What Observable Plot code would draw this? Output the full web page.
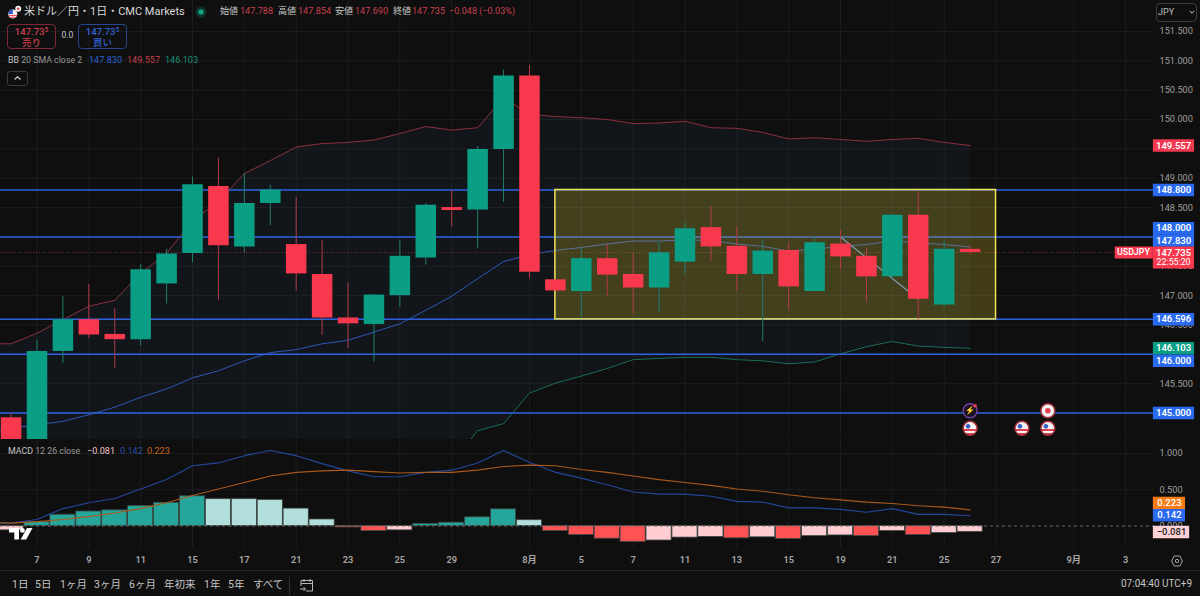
<!DOCTYPE html>
<html lang="ja">
<head>
<meta charset="utf-8">
<script src="https://cdn.jsdelivr.net/npm/d3@7"></script>
<script src="https://cdn.jsdelivr.net/npm/@observablehq/plot@0.6"></script>
<style>
  html,body{margin:0;padding:0;background:#0f0f0f;}
  #root{position:relative;width:1200px;height:596px;overflow:hidden;background:#0f0f0f;font-family:Roboto,"Noto Sans CJK JP",sans-serif;color:#c8c8c8;}
  #price,#macd{position:absolute;left:0;width:1200px;}
  #price{top:0;} #macd{top:440px;}
  svg{display:block;overflow:visible;}
  .t{position:absolute;white-space:nowrap;line-height:1;font-size:9.1px;}
  .r{color:#c9404e;} .b{color:#2f62d6;} .g{color:#1a8f79;}
  .box{position:absolute;box-sizing:border-box;border-radius:3px;}
  .btn{position:absolute;top:24px;height:25px;width:49px;box-sizing:border-box;border-radius:4px;border:1px solid;text-align:center;font-size:9.5px;line-height:11px;padding-top:1px;font-weight:500;}
  .btn sup{font-size:6.5px;line-height:0;vertical-align:3px;}
  .tb{position:absolute;top:580px;font-size:10.5px;line-height:1;color:#c4c4c4;white-space:nowrap;}
</style>
</head>
<body>
<div id="root">
  <div id="price"></div>
  <div id="macd"></div>

  <svg style="position:absolute;left:8px;top:5px" width="14" height="14" viewBox="0 0 14 14">
    <circle cx="4.8" cy="9" r="4.6" fill="#f2f2f2"/>
    <path d="M.4 9a4.6 4.6 0 0 1 4.4-4.6V9z" fill="#2f55c8"/>
    <path d="M.6 10.4h8.4M1.6 12.3h6.4" stroke="#e2404c" stroke-width="1"/>
    <circle cx="10.2" cy="3.8" r="3" fill="#f2f2f2"/>
    <circle cx="10.2" cy="3.8" r="1.3" fill="#e2404c"/>
  </svg>
  <div class="t" style="left:24px;top:6px;font-size:11px;color:#d8d8d8">米ドル／円・1日・CMC Markets</div>
  <svg style="position:absolute;left:195px;top:6px" width="12" height="12"><circle cx="6" cy="6" r="5.5" fill="#10332c"/><circle cx="6" cy="6" r="2.6" fill="#14a88b"/></svg>
  <div class="t" style="left:220px;top:7px">始値</div><div class="t r" style="left:240px;top:7px">147.788</div>
  <div class="t" style="left:278px;top:7px">高値</div><div class="t r" style="left:298px;top:7px">147.854</div>
  <div class="t" style="left:335px;top:7px">安値</div><div class="t r" style="left:355px;top:7px">147.690</div>
  <div class="t" style="left:393px;top:7px">終値</div><div class="t r" style="left:412px;top:7px">147.735</div>
  <div class="t r" style="left:449px;top:7px">−0.048 (−0.03%)</div>

  <div class="btn r" style="left:7px;border-color:#7d2a35">147.73<sup>5</sup><br>売り</div>
  <div class="t" style="left:61.5px;top:31px;font-size:8.5px">0.0</div>
  <div class="btn b" style="left:78px;border-color:#28458f">147.73<sup>5</sup><br>買い</div>

  <div class="t" style="left:8px;top:56px;color:#9a9a9a;font-size:8.8px"><span style="color:#c4c4c4">BB</span> 20 SMA close 2</div>
  <div class="t b" style="left:89px;top:56px">147.830</div>
  <div class="t r" style="left:127px;top:56px">149.557</div>
  <div class="t g" style="left:165px;top:56px">146.103</div>
  <div class="box" style="left:7px;top:71px;width:21px;height:15px;border:1px solid #3a3a3a"></div>
  <svg style="position:absolute;left:13px;top:75px" width="9" height="6"><path d="M1.5 4.5 4.5 1.8 7.5 4.5" fill="none" stroke="#d0d0d0" stroke-width="1.2"/></svg>

  <div class="box" style="left:1156px;top:3px;width:41px;height:19px;border:1px solid #3c3c3c;border-radius:4px"></div>
  <div class="t" style="left:1158px;top:7.5px;font-size:9px;color:#bdbdbd">JPY</div>
  <svg style="position:absolute;left:1189px;top:10px" width="6" height="5"><path d="M.8 1 3 3.2 5.2 1" fill="none" stroke="#c8c8c8" stroke-width="1"/></svg>

  <div class="t" style="left:8px;top:447px;color:#9a9a9a;font-size:8.8px"><span style="color:#c4c4c4">MACD</span> 12 26 close</div>
  <div class="t" style="left:87px;top:447px;color:#f0c4cb">−0.081</div>
  <div class="t b" style="left:120px;top:447px;color:#2d50a8">0.142</div>
  <div class="t" style="left:147px;top:447px;color:#c8641c">0.223</div>

  <svg style="position:absolute;left:9px;top:527px" width="24" height="14" viewBox="0 0 24 14">
    <path d="M0 1h10v11.5H5.3V5.6H0z" fill="#fff"/><circle cx="13.4" cy="3.4" r="2.4" fill="#fff"/>
    <polygon points="18,1 23.5,1 17.2,12.5 11.6,12.5" fill="#fff"/>
  </svg>

  <div style="position:absolute;left:0;top:570px;width:1200px;height:1px;background:#262626"></div>
  <div class="tb" style="left:12px">1日</div>
  <div class="tb" style="left:35px">5日</div>
  <div class="tb" style="left:60px">1ヶ月</div>
  <div class="tb" style="left:94px">3ヶ月</div>
  <div class="tb" style="left:129px">6ヶ月</div>
  <div class="tb" style="left:164px">年初来</div>
  <div class="tb" style="left:204px">1年</div>
  <div class="tb" style="left:228px">5年</div>
  <div class="tb" style="left:253px">すべて</div>
  <div style="position:absolute;left:289px;top:577px;width:1px;height:18px;background:#333"></div>
  <svg style="position:absolute;left:299px;top:577px" width="16" height="16" viewBox="0 0 16 16" fill="none" stroke="#b8b8b8" stroke-width="1">
    <path d="M2 9V3.5h11.5V14H7M2 6.5h11.5M5 2v3M11 2v3M1 12h5M4.5 10l2 2-2 2"/>
  </svg>
  <div class="tb" style="left:1121px;top:579px;font-size:10px">07:04:40 UTC+9</div>
  <svg style="position:absolute;left:1171px;top:555px" width="12" height="12" viewBox="0 0 12 12" fill="none" stroke="#a8a8a8"><path d="M3.2 1h5.6L11.4 6 8.8 11H3.2L.6 6z" stroke-width="1"/><circle cx="6" cy="6" r="1.7" stroke-width="1"/></svg>
</div>

<script>
// ---------- candles, first entry is the Friday before the 7th ----------
const barIndex = d3.range(-1, 37);
const opens  = [144.92,144.30,146.05,146.59,146.34,146.25,147.20,147.72,148.86,147.83,148.57,147.87,147.36,146.62,146.51,147.00,147.64,148.50,148.46,149.49,150.74,147.27,147.07,147.63,147.36,147.13,147.57,148.16,147.84,147.36,147.77,147.07,147.88,147.67,147.32,148.37,146.84,147.788];
const highs  = [144.99,146.24,146.98,147.19,146.78,147.53,147.79,149.02,149.34,149.08,148.88,148.67,147.94,147.22,147.02,147.94,148.57,148.79,149.54,150.84,150.92,147.27,147.82,147.88,147.72,147.91,148.24,148.52,148.17,147.95,147.89,148.00,148.11,147.81,148.39,148.77,147.93,147.854];
const lows   = [144.20,144.20,145.85,146.27,145.76,146.14,146.86,147.56,146.92,147.73,148.19,147.08,146.32,146.10,145.87,146.80,147.52,148.17,147.80,148.59,147.29,147.08,146.62,146.99,146.69,146.72,147.36,147.58,147.08,146.22,146.75,147.07,147.44,146.88,147.28,146.59,146.80,147.690];
const closes = [144.30,146.05,146.59,146.33,146.25,147.44,147.71,148.89,147.85,148.57,148.80,147.37,146.62,146.52,147.01,147.67,148.54,148.45,149.49,150.74,147.40,147.08,147.63,147.35,147.13,147.73,148.14,147.83,147.36,147.76,147.15,147.90,147.66,147.32,148.37,146.94,147.79,147.735];

// ---------- Bollinger bands, starting one bar further left ----------
const bandIndex = d3.range(-2, 37);
const bbUpper  = [146.18,146.18,146.36,146.59,146.82,146.92,147.38,147.72,148.28,148.60,149.08,149.30,149.53,149.59,149.61,149.65,149.76,149.88,149.82,149.86,150.37,150.09,150.05,150.03,150.00,149.93,149.94,149.97,149.86,149.85,149.78,149.67,149.69,149.66,149.63,149.66,149.68,149.61,149.557];
const bbMiddle = [144.67,144.74,144.80,144.86,144.97,145.10,145.27,145.41,145.60,145.72,145.89,146.03,146.08,146.18,146.24,146.38,146.52,146.75,146.99,147.29,147.58,147.70,147.77,147.82,147.88,147.93,147.93,147.95,147.94,147.88,147.84,147.76,147.79,147.84,147.87,147.93,147.90,147.87,147.830];
const bbLower  = [143.20,143.30,143.25,143.15,143.10,143.30,143.15,143.10,142.90,142.85,142.70,142.75,142.65,142.75,142.85,143.10,143.25,143.60,144.14,144.70,144.82,145.34,145.51,145.63,145.76,145.91,145.93,145.95,145.95,145.91,145.89,145.84,145.87,146.01,146.13,146.22,146.14,146.12,146.103];

// ---------- MACD pane ----------
const macdIndex = d3.range(-2, 37);
const macdLine = [0.04,0.04,0.09,0.24,0.32,0.38,0.51,0.64,0.83,0.87,0.97,1.04,0.97,0.86,0.76,0.68,0.68,0.74,0.77,0.87,1.04,0.88,0.74,0.66,0.57,0.47,0.44,0.44,0.41,0.34,0.33,0.25,0.25,0.23,0.19,0.24,0.16,0.16,0.142];
const signalLine = [0.05,0.04,0.06,0.09,0.13,0.18,0.24,0.32,0.42,0.51,0.60,0.69,0.74,0.76,0.77,0.75,0.73,0.74,0.74,0.77,0.82,0.84,0.83,0.78,0.74,0.69,0.64,0.60,0.56,0.51,0.48,0.43,0.39,0.36,0.33,0.31,0.28,0.26,0.223];
const histIndex = d3.range(-1, 37);
const histogram = [-0.06,0.055,0.156,0.20,0.216,0.276,0.32,0.41,0.37,0.37,0.36,0.24,0.09,-0.02,-0.07,-0.06,0.03,0.046,0.12,0.23,0.08,-0.07,-0.125,-0.175,-0.22,-0.20,-0.16,-0.15,-0.17,-0.156,-0.18,-0.14,-0.13,-0.14,-0.07,-0.125,-0.097,-0.081];

// ---------- axis content ----------
const priceGrid = [145,145.5,146,146.5,147,147.5,148,148.5,149,149.5,150,150.5,151,151.5];
const priceTicks = [145.5,146.5,147,147.5,148.5,149,150,150.5,151,151.5];
const levels = [148.8,148,146.596,146,145];
const dateTickIndex = [0,2,4,6,8,10,12,14,16,19,21,23,25,27,29,31,33,35,37,40,42];
const dateTickLabel = ["7","9","11","15","17","21","23","25","29","8月","5","7","11","13","15","19","21","25","27","9月","3"];
const macdTicks = [0,0.5,1];
const box = {i1:20,i2:37,low:146.596,high:148.8};
const trend = [{i:31,p:148.0},{i:34,p:146.94}];
const last = 147.735;
const priceTagLabels = ["149.557","148.800","148.000","147.830","146.596","146.103","146.000","145.000"];
const priceTagAt     = [149.557,148.8,148.15,147.94,146.596,146.103,145.89,145];
const priceTagFill   = ["#f0394f","#2a6af0","#2a6af0","#2a6af0","#2a6af0","#0a9f84","#2a6af0","#2a6af0"];
const macdTagLabels = ["0.223","0.142","−0.081"];
const macdTagAt     = [0.316,0.15,-0.081];
const macdTagFill   = ["#f57c14","#2a6af0","#ffd2d8"];
const macdTagInk    = ["#fff","#fff","#222"];
const flagEvents = [{i:36,p:144.74},{i:38,p:144.74},{i:39,p:144.74}];
const jpEvents = [{i:39,p:145.04}];
const boltEvents = [{i:36,p:145.04}];

const zipTable = (idx, cols) => idx.map((i,k)=>{const r={i};for(const c in cols) r[c]=cols[c][k];return r;});
const candles = zipTable(barIndex,{o:opens,h:highs,l:lows,c:closes});
const bands = zipTable(bandIndex,{u:bbUpper,m:bbMiddle,d:bbLower});
const macd = zipTable(macdIndex,{m:macdLine,s:signalLine});
const hist = zipTable(histIndex,{v:histogram});
const histColor = (d,k)=>{
  const prev = k? hist[k-1].v : d.v-1;
  return d.v>=0 ? (d.v>prev?"#26a69a":"#b2dfdb") : (d.v<prev?"#ff5252":"#ffcdd2");
};

const GREEN="#0a9f84", RED="#f7384d", GRID="#1c1d1e", LEVEL="#2d62e0";
const xDomain=[-1.408,43.114], marginRight=46;
const tagL=43.07, tagR=44.66, tagC=43.85, font="Roboto,'Noto Sans CJK JP',sans-serif";
const priceTags = zipTable(priceTagLabels,{at:priceTagAt,fill:priceTagFill}).map(d=>({label:d.i,at:d.at,fill:d.fill}));
const macdTags = zipTable(macdTagLabels,{at:macdTagAt,fill:macdTagFill,ink:macdTagInk}).map(d=>({label:d.i,at:d.at,fill:d.fill,ink:d.ink}));

const pricePlot = Plot.plot({
  width:1200,height:439,marginTop:0,marginBottom:0,marginLeft:0,marginRight,
  style:{background:"transparent",fontFamily:font,overflow:"visible"},
  x:{type:"linear",domain:xDomain,axis:null},
  y:{type:"linear",domain:[144.55,152.027],axis:null},
  color:{type:"identity"},
  marks:[
    Plot.gridX(dateTickIndex,{stroke:GRID,strokeOpacity:1}),
    Plot.gridY(priceGrid,{stroke:GRID,strokeOpacity:1}),
    Plot.areaY(bands,{x:"i",y1:"d",y2:"u",fill:"#3c7fb8",fillOpacity:0.065,clip:"frame"}),
    Plot.line(bands,{x:"i",y:"u",stroke:"#8a2f3b",strokeWidth:1,clip:"frame"}),
    Plot.line(bands,{x:"i",y:"m",stroke:"#2c58b8",strokeWidth:1,clip:"frame"}),
    Plot.line(bands,{x:"i",y:"d",stroke:"#1a6d5c",strokeWidth:1,clip:"frame"}),
    Plot.ruleY(levels,{x1:()=>xDomain[0],x2:()=>tagL,stroke:LEVEL,strokeWidth:1.5}),
    Plot.ruleY([last],{x1:()=>xDomain[0],x2:()=>41.6,stroke:"#7a2d35",strokeWidth:1,strokeDasharray:"1,2"}),
    Plot.line(trend,{x:"i",y:"p",stroke:"#5f8fd0",strokeWidth:1.2}),
    Plot.rect([box],{x1:"i1",x2:"i2",y1:"low",y2:"high",fill:"#e0c830",fillOpacity:0.24,stroke:"#efe35a",strokeWidth:1.5}),
    Plot.ruleX(candles,{x:"i",y1:"l",y2:"h",stroke:d=>d.c>=d.o?"#1c7f6c":"#b23a4a",strokeWidth:1,clip:"frame"}),
    Plot.ruleX(candles,{x:"i",y1:"o",y2:"c",stroke:d=>d.c>=d.o?GREEN:RED,strokeWidth:20.5,clip:"frame"}),
    Plot.axisY(priceTicks,{anchor:"right",tickSize:0,tickPadding:5,tickFormat:d3.format(".3f"),fill:"#9e9e9e",fontSize:9.2,label:null}),
    Plot.dot(boltEvents,{x:"i",y:"p",r:7,fill:"#1a1420",stroke:"#7b3fb0",strokeWidth:1.3}),
    Plot.text(boltEvents,{x:"i",y:"p",text:()=>"⚡",fill:"#9a55d0",fontSize:8}),
    Plot.dot(boltEvents,{x:"i",y:"p",r:1.8,dx:5,dy:-5,fill:"#f23d50"}),
    Plot.dot(jpEvents,{x:"i",y:"p",r:7,fill:"#f4f4f4",stroke:"#a5303c",strokeWidth:1.5}),
    Plot.dot(jpEvents,{x:"i",y:"p",r:2.8,fill:"#e2404c"}),
    Plot.dot(flagEvents,{x:"i",y:"p",r:7,fill:"url(#usflag)",stroke:"#a5303c",strokeWidth:1.5}),
    Plot.dot(flagEvents,{x:"i",y:"p",r:2.3,dx:-2,dy:-2,fill:"#3a5fc0"}),
    Plot.ruleY(priceTags,{y:"at",x1:()=>tagL,x2:()=>tagR,stroke:"fill",strokeWidth:12.5}),
    Plot.text(priceTags,{x:()=>tagC,y:"at",text:"label",fill:"#fff",fontSize:9.5,fontWeight:600}),
    Plot.ruleY([last],{dy:5,x1:()=>tagL,x2:()=>tagR,stroke:RED,strokeWidth:22}),
    Plot.text([last],{x:()=>tagC,y:d=>d,text:()=>"147.735",fill:"#fff",fontSize:9.5,fontWeight:600}),
    Plot.text([last],{x:()=>tagC,y:d=>d,dy:10,text:()=>"22:55:20",fill:"#fff",fontSize:8.8}),
    Plot.ruleY([last],{x1:()=>41.6,x2:()=>tagL,stroke:RED,strokeWidth:12}),
    Plot.text([last],{x:()=>42.3,y:d=>d,text:()=>"USDJPY",fill:"#fff",fontSize:8.8,fontWeight:600})
  ]
});
d3.select(pricePlot).append("defs").html(
  '<linearGradient id="usflag" x1="0" y1="0" x2="0" y2="1">'+
  '<stop offset="0" stop-color="#f4f4f4"/><stop offset=".55" stop-color="#f4f4f4"/><stop offset=".55" stop-color="#e2404c"/><stop offset=".68" stop-color="#e2404c"/><stop offset=".68" stop-color="#f4f4f4"/><stop offset=".8" stop-color="#f4f4f4"/><stop offset=".8" stop-color="#e2404c"/><stop offset="1" stop-color="#e2404c"/>'+
  '</linearGradient>');
document.getElementById("price").append(pricePlot);

const macdPlot = Plot.plot({
  width:1200,height:130,marginTop:0,marginBottom:22,marginLeft:0,marginRight,
  style:{background:"transparent",fontFamily:font,overflow:"visible"},
  x:{type:"linear",domain:xDomain,axis:null},
  y:{type:"linear",domain:[-0.31,1.179],axis:null},
  color:{type:"identity"},
  marks:[
    Plot.gridX(dateTickIndex,{stroke:GRID,strokeOpacity:1}),
    Plot.gridY(macdTicks.slice(1),{stroke:GRID,strokeOpacity:1}),
    Plot.rect(hist,{x1:d=>d.i-0.485,x2:d=>d.i+0.485,y1:()=>0,y2:"v",fill:histColor,stroke:"#3c4644",strokeWidth:0.8,clip:"frame"}),
    Plot.ruleY([0],{stroke:"#6a6a6a",strokeDasharray:"3,3"}),
    Plot.line(macd,{x:"i",y:"m",stroke:"#24479e",strokeWidth:1.1,clip:"frame"}),
    Plot.line(macd,{x:"i",y:"s",stroke:"#a9591c",strokeWidth:1.1,clip:"frame"}),
    Plot.axisY(macdTicks,{anchor:"right",tickSize:0,tickPadding:5,tickFormat:d3.format(".3f"),fill:"#9e9e9e",fontSize:9.2,label:null}),
    Plot.ruleY(macdTags,{y:"at",x1:()=>tagL,x2:(d,k)=>tagL+(k===2?1.4:1.24),stroke:"fill",strokeWidth:12.5}),
    Plot.text(macdTags,{x:(d,k)=>tagL+(k===2?0.7:0.62),y:"at",text:"label",fill:"ink",fontSize:9.5,fontWeight:500}),
    Plot.axisX(dateTickIndex,{anchor:"bottom",tickSize:0,tickPadding:8,tickFormat:i=>dateTickLabel[dateTickIndex.indexOf(i)],fill:"#a8a8a8",fontSize:9.2,fontWeight:600,label:null})
  ]
});
document.getElementById("macd").append(macdPlot);
</script>
</body>
</html>
